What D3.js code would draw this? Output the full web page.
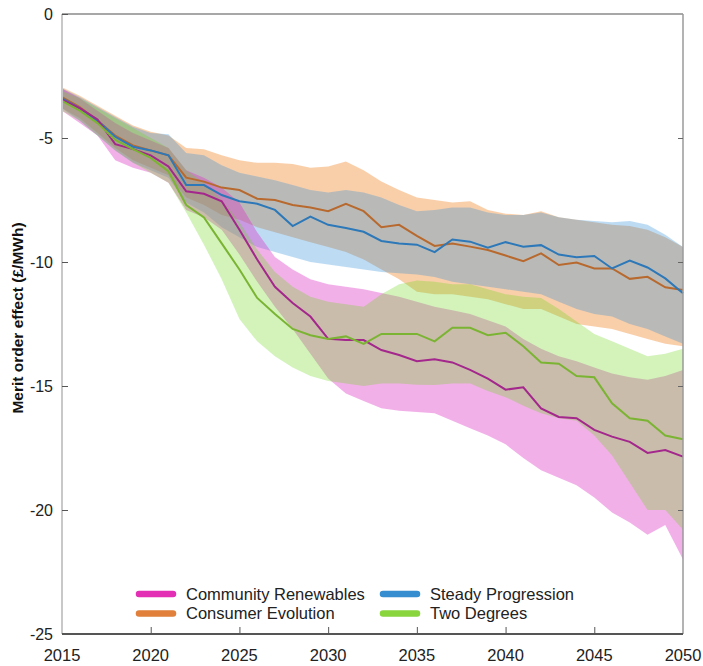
<!DOCTYPE html>
<html>
<head>
<meta charset="utf-8">
<script src="https://cdn.jsdelivr.net/npm/d3@7"></script>
<style>
  body { margin: 0; background: #fff; }
  text { font-family: "Liberation Sans", Arial, Helvetica, sans-serif; }
</style>
</head>
<body>
<div id="chart"></div>
<script>
// years on the x axis
var years = [2015,2016,2017,2018,2019,2020,2021,2022,2023,2024,2025,2026,2027,2028,2029,2030,2031,2032,
  2033,2034,2035,2036,2037,2038,2039,2040,2041,2042,2043,2044,2045,2046,2047,2048,2049,2050];

// Community Renewables
var crMid = [-3.45,-3.8,-4.25,-5.25,-5.45,-5.7,-6.15,-7.15,-7.25,-7.55,-8.7,-9.9,-11.0,-11.65,-12.2,-13.1,-13.15,-13.15,
  -13.55,-13.75,-14.0,-13.92,-14.05,-14.35,-14.7,-15.15,-15.05,-15.9,-16.25,-16.3,-16.77,-17.04,-17.25,-17.7,-17.58,-17.85];
var crHigh = [-3.0,-3.4,-3.9,-4.4,-4.8,-5.1,-5.4,-6.3,-6.6,-7.0,-7.6,-8.8,-9.8,-10.3,-10.7,-10.9,-11.0,-11.1,
  -11.25,-11.4,-11.6,-11.8,-11.95,-12.1,-12.35,-12.6,-13.1,-13.5,-13.8,-14.0,-14.25,-14.5,-14.65,-14.75,-14.6,-14.35];
var crLow = [-3.9,-4.4,-4.9,-5.9,-6.2,-6.4,-6.8,-7.9,-8.2,-8.7,-9.7,-10.8,-11.8,-12.7,-13.7,-14.7,-15.3,-15.6,
  -15.9,-16.0,-16.05,-16.1,-16.4,-16.7,-17.0,-17.35,-17.9,-18.4,-18.7,-19.0,-19.5,-20.1,-20.5,-21.0,-20.6,-22.0];

// Consumer Evolution
var ceMid = [-3.35,-3.75,-4.3,-4.9,-5.3,-5.5,-5.7,-6.6,-6.76,-7.0,-7.1,-7.45,-7.5,-7.7,-7.8,-7.95,-7.65,-7.95,
  -8.6,-8.5,-8.95,-9.35,-9.25,-9.38,-9.52,-9.74,-9.97,-9.65,-10.12,-10.02,-10.26,-10.26,-10.68,-10.6,-11.02,-11.13];
var ceHigh = [-2.95,-3.3,-3.7,-4.1,-4.5,-4.75,-4.9,-5.4,-5.45,-5.7,-5.9,-6.0,-6.0,-6.05,-6.2,-6.15,-5.95,-6.3,
  -6.75,-7.1,-7.4,-7.5,-7.6,-7.55,-7.9,-8.05,-8.1,-7.95,-8.2,-8.3,-8.4,-8.5,-8.55,-8.7,-9.0,-9.4];
var ceLow = [-3.8,-4.2,-4.8,-5.4,-5.9,-6.2,-6.5,-7.4,-7.7,-8.1,-8.3,-8.6,-8.8,-9.0,-9.2,-9.4,-9.6,-9.9,
  -10.3,-10.7,-11.2,-11.3,-11.3,-11.4,-11.5,-11.7,-11.9,-11.9,-12.2,-12.5,-12.6,-12.7,-12.9,-13.1,-13.3,-13.4];

// Steady Progression
var spMid = [-3.4,-3.8,-4.3,-4.95,-5.35,-5.5,-5.7,-6.9,-6.9,-7.3,-7.55,-7.65,-7.9,-8.55,-8.17,-8.5,-8.63,-8.78,
  -9.15,-9.25,-9.3,-9.6,-9.09,-9.18,-9.42,-9.2,-9.38,-9.32,-9.7,-9.81,-9.76,-10.26,-9.94,-10.22,-10.66,-11.26];
var spHigh = [-3.0,-3.35,-3.75,-4.15,-4.55,-4.8,-4.85,-5.6,-5.7,-6.1,-6.4,-6.55,-6.7,-6.9,-7.1,-7.2,-7.1,-7.2,
  -7.4,-7.7,-7.95,-7.9,-7.8,-7.8,-8.0,-8.1,-8.1,-8.0,-8.2,-8.3,-8.35,-8.4,-8.35,-8.5,-8.9,-9.4];
var spLow = [-3.8,-4.3,-4.9,-5.5,-6.0,-6.3,-6.6,-7.6,-8.0,-8.6,-9.0,-9.4,-9.6,-9.8,-10.0,-10.1,-10.2,-10.3,
  -10.4,-10.45,-10.5,-10.6,-10.8,-10.9,-11.0,-11.1,-11.2,-11.3,-11.6,-11.9,-12.1,-12.2,-12.5,-12.7,-13.0,-13.3];

// Two Degrees
var tdMid = [-3.5,-3.9,-4.4,-5.08,-5.45,-5.8,-6.35,-7.7,-8.2,-9.25,-10.3,-11.45,-12.1,-12.7,-12.95,-13.1,-13.0,-13.3,
  -12.9,-12.9,-12.9,-13.2,-12.65,-12.65,-12.95,-12.85,-13.4,-14.05,-14.1,-14.6,-14.65,-15.7,-16.3,-16.4,-17.0,-17.15];
var tdHigh = [-3.1,-3.4,-3.8,-4.2,-4.6,-5.0,-5.4,-6.3,-6.8,-7.5,-8.4,-9.5,-10.4,-11.0,-11.4,-11.6,-11.7,-11.8,
  -11.3,-10.9,-10.75,-10.8,-10.9,-10.9,-11.1,-11.3,-11.4,-11.45,-11.9,-12.4,-12.9,-13.2,-13.5,-13.8,-13.7,-13.5];
var tdLow = [-3.9,-4.3,-4.9,-5.5,-6.0,-6.4,-6.8,-8.0,-9.3,-10.7,-12.3,-13.2,-13.8,-14.25,-14.6,-14.8,-14.9,-15.0,
  -14.9,-14.9,-14.95,-14.96,-14.9,-14.9,-15.2,-15.45,-15.8,-16.1,-16.3,-16.4,-17.0,-17.8,-18.9,-20.0,-20.0,-20.8];

var xTicks = [2015,2020,2025,2030,2035,2040,2045,2050];
var yTicks = [0,-5,-10,-15,-20,-25];

// drawing order of the bands: orange, blue, pink, green
var scenarios = [
  {name: "Consumer Evolution", mid: ceMid, low: ceLow, high: ceHigh, fill: "#f0872a", op: 0.4, line: "#b8692e", key: "#e0803a"},
  {name: "Steady Progression", mid: spMid, low: spLow, high: spHigh, fill: "#248bd9", op: 0.3, line: "#2c78b8", key: "#368dd0"},
  {name: "Community Renewables", mid: crMid, low: crLow, high: crHigh, fill: "#de2fc5", op: 0.38, line: "#a3278c", key: "#e22fb4"},
  {name: "Two Degrees", mid: tdMid, low: tdLow, high: tdHigh, fill: "#6ed71e", op: 0.3, line: "#7ab432", key: "#88d53e"}
];

var width = 703, height = 666;
var margin = {top: 14, right: 20, bottom: 32, left: 62};

var svg = d3.select("#chart").append("svg")
  .attr("width", width)
  .attr("height", height);

var x = d3.scaleLinear().domain([2015, 2050]).range([margin.left, width - margin.right]);
var y = d3.scaleLinear().domain([0, -25]).range([margin.top, height - margin.bottom]);

// bands
scenarios.forEach(function(s){
  var area = d3.area()
    .x(function(d, i){ return x(years[i]); })
    .y0(function(d, i){ return y(s.low[i]); })
    .y1(function(d, i){ return y(s.high[i]); });
  svg.append("path")
    .datum(years)
    .attr("d", area)
    .attr("fill", s.fill)
    .attr("fill-opacity", s.op);
});

// median lines
scenarios.forEach(function(s){
  var line = d3.line()
    .x(function(d, i){ return x(years[i]); })
    .y(function(d){ return y(d); });
  svg.append("path")
    .datum(s.mid)
    .attr("d", line)
    .attr("fill", "none")
    .attr("stroke", s.line)
    .attr("stroke-width", 2);
});

// frame
svg.append("line").attr("x1", x(2015)).attr("x2", x(2050)).attr("y1", y(0)).attr("y2", y(0))
  .attr("stroke", "#8a8a8a").attr("stroke-width", 1.5);
svg.append("line").attr("x1", x(2050)).attr("x2", x(2050)).attr("y1", y(0)).attr("y2", y(-25))
  .attr("stroke", "#9a9a9a").attr("stroke-width", 1.5);
svg.append("line").attr("x1", x(2015)).attr("x2", x(2015)).attr("y1", y(0)).attr("y2", y(-25))
  .attr("stroke", "#c8c8c8").attr("stroke-width", 2);

// left axis
var yAxis = svg.append("g")
  .attr("transform", "translate(" + x(2015) + ",0)")
  .call(d3.axisRight(y).tickValues(yTicks).tickSize(6).tickFormat(""));
yAxis.select(".domain").remove();
yAxis.selectAll(".tick line").attr("stroke", "#555");
svg.append("g").selectAll("text")
  .data(yTicks)
  .enter().append("text")
  .attr("x", x(2015) - 9)
  .attr("y", function(d){ return y(d); })
  .attr("dy", "0.35em")
  .attr("text-anchor", "end")
  .style("font-size", "16px")
  .attr("fill", "#222")
  .text(function(d){ return d; });

// right axis ticks
var yAxisR = svg.append("g")
  .attr("transform", "translate(" + x(2050) + ",0)")
  .call(d3.axisLeft(y).tickValues(yTicks.slice(1, 5)).tickSize(5).tickFormat(""));
yAxisR.select(".domain").remove();
yAxisR.selectAll(".tick line").attr("stroke", "#666");

// bottom axis
var xAxis = svg.append("g")
  .attr("transform", "translate(0," + y(-25) + ")")
  .call(d3.axisTop(x).tickValues(xTicks.slice(1, 7)).tickSize(7).tickFormat(""));
xAxis.select(".domain").remove();
xAxis.selectAll(".tick line").attr("stroke", "#555");
svg.append("line").attr("x1", x(2015)).attr("x2", x(2050)).attr("y1", y(-25)).attr("y2", y(-25))
  .attr("stroke", "#555").attr("stroke-width", 2);
svg.append("g").selectAll("text")
  .data(xTicks)
  .enter().append("text")
  .attr("x", function(d){ return x(d); })
  .attr("y", y(-25) + 27)
  .attr("text-anchor", "middle")
  .style("font-size", "16.5px")
  .attr("fill", "#222")
  .text(function(d){ return d; });

// y label
svg.append("text")
  .attr("transform", "translate(23,318) rotate(-90)")
  .attr("text-anchor", "middle")
  .style("font-size", "15.5px")
  .style("font-weight", "bold")
  .attr("fill", "#111")
  .text("Merit order effect (£/MWh)");

// legend
var legendOrder = [scenarios[2], scenarios[0], scenarios[1], scenarios[3]];
var legend = svg.append("g");
legend.append("rect")
  .attr("x", 126).attr("y", 580).attr("width", 468).attr("height", 46)
  .attr("fill", "#fff");
legendOrder.forEach(function(s, i){
  var col = Math.floor(i / 2), row = i % 2;
  var lx = 139 + col * 244, ly = 594 + row * 19.5;
  legend.append("line")
    .attr("x1", lx).attr("x2", lx + 34)
    .attr("y1", ly).attr("y2", ly)
    .attr("stroke", s.key).attr("stroke-width", 6.5)
    .attr("stroke-linecap", "round");
  legend.append("text")
    .attr("x", lx + 47).attr("y", ly)
    .attr("dy", "0.36em")
    .style("font-size", "16.5px")
    .attr("fill", "#222")
    .text(s.name);
});
</script>
</body>
</html>
